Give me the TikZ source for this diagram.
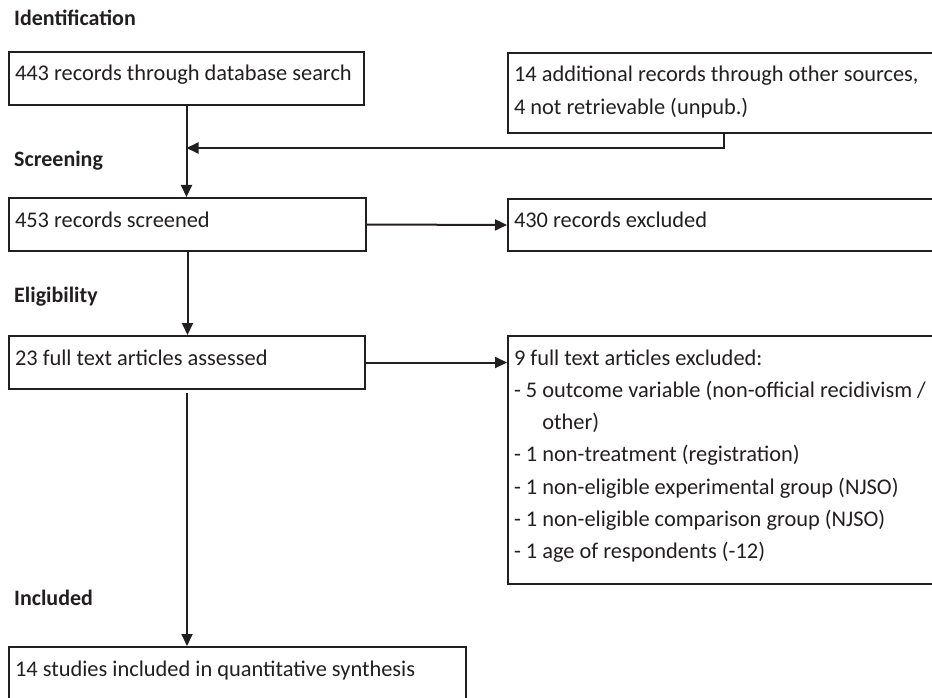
\documentclass[tikz,border=0pt]{standalone}
\usepackage{fontspec}
\setmainfont{Carlito}
\usetikzlibrary{arrows.meta}
\definecolor{ink}{HTML}{231F20}
\tikzset{
	box/.style={draw=ink, text=ink, line width=2pt, anchor=north west, inner xsep=6pt, inner ysep=0pt, align=flush left, text height=29pt, text depth=24pt, font=\fontsize{22.4}{32.3}\selectfont},
	stage/.style={text=ink, anchor=base west, inner sep=0pt, font=\fontsize{22}{26}\selectfont\bfseries},
	flow/.style={draw=ink, line width=2pt, -{Triangle[length=12pt, width=11pt]}}
}
\begin{document}
\begin{tikzpicture}[x=1pt, y=-1pt]
	\useasboundingbox (0,0) rectangle (932,698);
	
	\node[stage] (ident) at (14,26) {Identification};
	\node[stage] (screen) at (14,167) {Screening};
	\node[stage] (elig) at (14,302) {Eligibility};
	\node[stage] (incl) at (14,605) {Included};
	
	\node[box, text width=343pt] (search) at (8,51) {443 records through database search};
	\node[box, text width=430pt, text depth=51pt] (other) at (507,52) {14 additional records through other sources,\\4 not retrievable (unpub.)};
	
	\node[box, text width=345pt] (screened) at (8,197) {453 records screened};
	\node[box, text width=430pt, text height=28pt] (excl) at (507,198) {430 records excluded};
	
	\node[box, text width=344pt] (assessed) at (8,335) {23 full text articles assessed};
	\node[box, text width=430pt, text depth=219pt] (fullexcl) at (507,335) {9 full text articles excluded:\\
		- 5 outcome variable (non-official recidivism /\\
		\hphantom{- 5 }other)\\
		- 1 non-treatment (registration)\\
		- 1 non-eligible experimental group (NJSO)\\
		- 1 non-eligible comparison group (NJSO)\\
		- 1 age of respondents (-12)};
	
	\node[box, text width=445pt, text depth=30pt] (studies) at (8,646) {14 studies included in quantitative synthesis};
	
	\draw[flow] (search.south) -- (search.south |- screened.north);
	\draw[flow] ([xshift=-5pt]other.south) |- (search.south |- 0,148);
	\draw[flow] (screened.east) -- (excl.west);
	\draw[flow] (screened.south) -- (screened.south |- assessed.north);
	\draw[flow] (assessed.east) -- (assessed.east -| fullexcl.west);
	\draw[flow, shorten <=3pt] (assessed.south) -- (assessed.south |- studies.north);
\end{tikzpicture}
\end{document}
